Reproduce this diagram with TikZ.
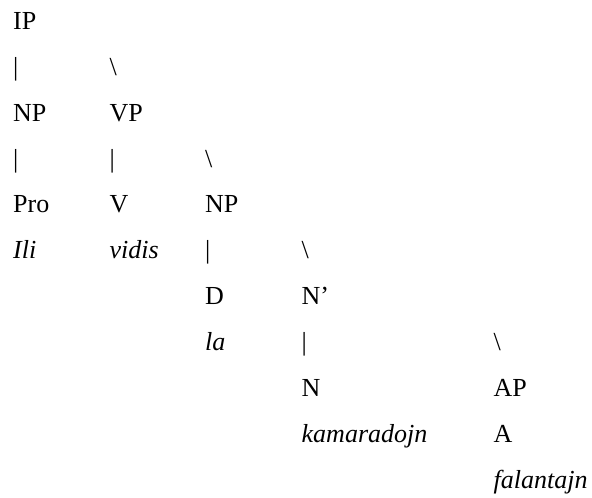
\documentclass[tikz,border=0pt]{standalone}
\usepackage{fontspec}
\setmainfont{Liberation Serif}
\begin{document}
\begin{tikzpicture}[x=1pt,y=-1pt,
  lbl/.style={anchor=base west, inner sep=0pt, font=\fontsize{26}{31}\selectfont},
  itl/.style={anchor=base west, inner sep=0pt, font=\fontsize{26}{31}\selectfont\itshape}]
\useasboundingbox (0,0) rectangle (592,498);
\def\ca{13}\def\cb{109.5}\def\cc{205}\def\cd{301.5}\def\ce{493.5}
% row 0
\node[lbl] (ip) at (\ca,29.3) {IP};
% row 1
\node[lbl] (b1a) at (\ca,75.2) {|};
\node[lbl] (s1b) at (\cb,75.2) {\textbackslash};
% row 2
\node[lbl] (np1) at (\ca,121.1) {NP};
\node[lbl] (vp) at (\cb,121.1) {VP};
% row 3
\node[lbl] (b3a) at (\ca,167.0) {|};
\node[lbl] (b3b) at (\cb,167.0) {|};
\node[lbl] (s3c) at (\cc,167.0) {\textbackslash};
% row 4
\node[lbl] (pro) at (\ca,212.9) {Pro};
\node[lbl] (v) at (\cb,212.9) {V};
\node[lbl] (np2) at (\cc,212.9) {NP};
% row 5
\node[itl] (ili) at (\ca,258.8) {Ili};
\node[itl] (vidis) at (\cb,258.8) {vidis};
\node[lbl] (b5c) at (\cc,258.8) {|};
\node[lbl] (s5d) at (\cd,258.8) {\textbackslash};
% row 6
\node[lbl] (d) at (\cc,304.7) {D};
\node[lbl] (nbar) at (\cd,304.7) {N’};
% row 7
\node[itl] (la) at (\cc,350.6) {la};
\node[lbl] (b7d) at (\cd,350.6) {|};
\node[lbl] (s7e) at (\ce,350.6) {\textbackslash};
% row 8
\node[lbl] (n) at (\cd,396.5) {N};
\node[lbl] (ap) at (\ce,396.5) {AP};
% row 9
\node[itl] (kam) at (\cd,442.4) {kamaradojn};
\node[lbl] (a) at (\ce,442.4) {A};
% row 10
\node[itl] (fal) at (\ce,488.3) {falantajn};
\end{tikzpicture}
\end{document}
